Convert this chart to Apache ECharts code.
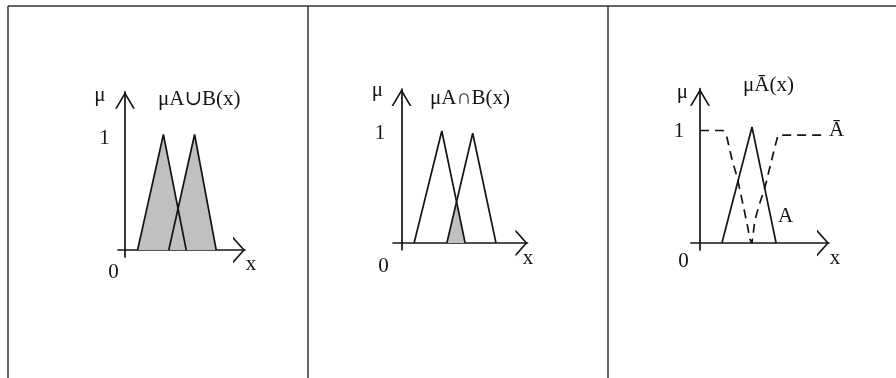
<!DOCTYPE html>
<html>
<head>
<meta charset="utf-8">
<style>
html, body { margin: 0; padding: 0; background: #fff; }
#main { width: 896px; height: 378px; }
</style>
<script src="https://cdn.jsdelivr.net/npm/echarts@6/dist/echarts.min.js"></script>
</head>
<body>
<div id="main"></div>
<script>
// membership functions (x in arbitrary units, y = mu)
// panel 1: union
var unionA = [[1.05, 0], [3.2, 1], [5.1, 0]];
var unionB = [[3.65, 0], [5.8, 1], [7.6, 0]];
// panel 2: intersection
var interA = [[1.0, 0], [3.2, 1], [5.05, 0]];
var interB = [[3.6, 0], [5.65, 0.98], [7.5, 0]];
var interAB = [[3.6, 0], [4.4, 0.38], [5.05, 0]];
// panel 3: complement
var complA = [[1.7, 0], [4.03, 1], [5.9, 0]];
var complNotA = [[0, 0.97], [1.78, 0.97], [2.09, 0.91], [2.48, 0.72], [2.87, 0.57], [3.26, 0.37],
  [3.64, 0.17], [3.88, 0.03], [4.03, 0], [4.26, 0.2], [4.65, 0.35], [5.04, 0.48], [5.43, 0.66],
  [5.81, 0.83], [6.05, 0.93], [9.46, 0.93]];

var titles = ['μA∪B(x)', 'μA∩B(x)', 'μĀ(x)'];

// layout of each little plot: origin in px, px per unit, axis ranges
var panels = [
  { ox: 125, oy: 250, sx: 12, sy: 115.5, xmin: -0.58, xmax: 10, ymin: -0.06, ymax: 1.37 },
  { ox: 401.5, oy: 243, sx: 12.6, sy: 112, xmin: -0.67, xmax: 10, ymin: -0.06, ymax: 1.375 },
  { ox: 700, oy: 243, sx: 12.9, sy: 116, xmin: -0.7, xmax: 10, ymin: -0.06, ymax: 1.33 }
];

var INK = '#141414';
var FONT = '21px "Liberation Serif", "DejaVu Serif", serif';

// open V arrow head, tip at top centre
function chevron(w, h, th) {
  var t = th * Math.sqrt(h * h + w * w / 4) / h;
  var a = 2 * t * h / w;
  return 'path://M0,' + h + ' L' + (w / 2) + ',0 L' + w + ',' + h +
    ' L' + (w - t) + ',' + h + ' L' + (w / 2) + ',' + a + ' L' + t + ',' + h + ' Z';
}

var grids = [], xAxes = [], yAxes = [];
panels.forEach(function (p) {
  grids.push({
    left: p.ox + p.xmin * p.sx,
    top: p.oy - p.ymax * p.sy,
    width: (p.xmax - p.xmin) * p.sx,
    height: (p.ymax - p.ymin) * p.sy
  });
  xAxes.push({
    type: 'value', gridIndex: grids.length - 1, min: p.xmin, max: p.xmax,
    axisLine: { onZero: true, lineStyle: { color: INK, width: 1.7 },
      symbol: ['none', chevron(27, 12, 1.6)], symbolSize: [27, 12], symbolOffset: [0, -6] },
    axisTick: { show: false }, axisLabel: { show: false }, splitLine: { show: false }
  });
  yAxes.push({
    type: 'value', gridIndex: grids.length - 1, min: p.ymin, max: p.ymax,
    axisLine: { show: true, onZero: true, lineStyle: { color: INK, width: 1.7 },
      symbol: ['none', chevron(20, 17, 1.6)], symbolSize: [20, 17], symbolOffset: [0, -8.5] },
    axisTick: { show: false }, axisLabel: { show: false }, splitLine: { show: false }
  });
});

function fill(data, idx) {
  return {
    type: 'line', data: data, xAxisIndex: idx, yAxisIndex: idx, z: 1,
    symbol: 'none', silent: true,
    lineStyle: { width: 0 },
    areaStyle: { color: '#c0c0c0', opacity: 1 }
  };
}
function outline(data, idx, dashed) {
  return {
    type: 'line', data: data, xAxisIndex: idx, yAxisIndex: idx, z: 3,
    symbol: 'none', silent: true,
    lineStyle: { color: INK, width: 1.7, type: dashed ? [9, 6] : 'solid' }
  };
}

var series = [
  fill(unionA, 0), fill(unionB, 0), outline(unionA, 0), outline(unionB, 0),
  fill(interAB, 1), outline(interA, 1), outline(interB, 1),
  outline(complA, 2), outline(complNotA, 2, true)
];

// text labels: [text, x, baseline, align]
var labels = [
  ['μ', 100, 102, 'center'], [titles[0], 158, 106, 'left'], ['1', 104.5, 145, 'center'],
  ['0', 113.5, 279, 'center'], ['x', 251, 271, 'center'],
  ['μ', 377.5, 97, 'center'], [titles[1], 430, 105, 'left'], ['1', 380, 140, 'center'],
  ['0', 383.5, 273, 'center'], ['x', 528, 265, 'center'],
  ['μ', 682.5, 99, 'center'], [titles[2], 743, 92, 'left'], ['1', 679, 138, 'center'],
  ['0', 683.5, 268, 'center'], ['x', 835, 265, 'center'],
  ['Ā', 836.5, 137, 'center'], ['A', 785.5, 223, 'center']
];

var graphic = labels.map(function (l) {
  return {
    type: 'text', silent: true,
    style: { text: l[0], x: l[1], y: l[2] - 6.5, font: FONT, fill: INK,
      align: l[3], verticalAlign: 'middle' }
  };
});
// table rules
[[8, 6, 896, 6], [8, 6, 8, 378], [308, 6, 308, 378], [608, 6, 608, 378]].forEach(function (s) {
  graphic.push({
    type: 'line', silent: true,
    shape: { x1: s[0], y1: s[1], x2: s[2], y2: s[3] },
    style: { stroke: '#333', lineWidth: 1.5 }
  });
});

var myChart = echarts.init(document.getElementById('main'));
option = {
  animation: false,
  backgroundColor: '#fff',
  grid: grids,
  xAxis: xAxes,
  yAxis: yAxes,
  series: series,
  graphic: graphic
};
myChart.setOption(option);
window.onresize = myChart.resize;
</script>
</body>
</html>
